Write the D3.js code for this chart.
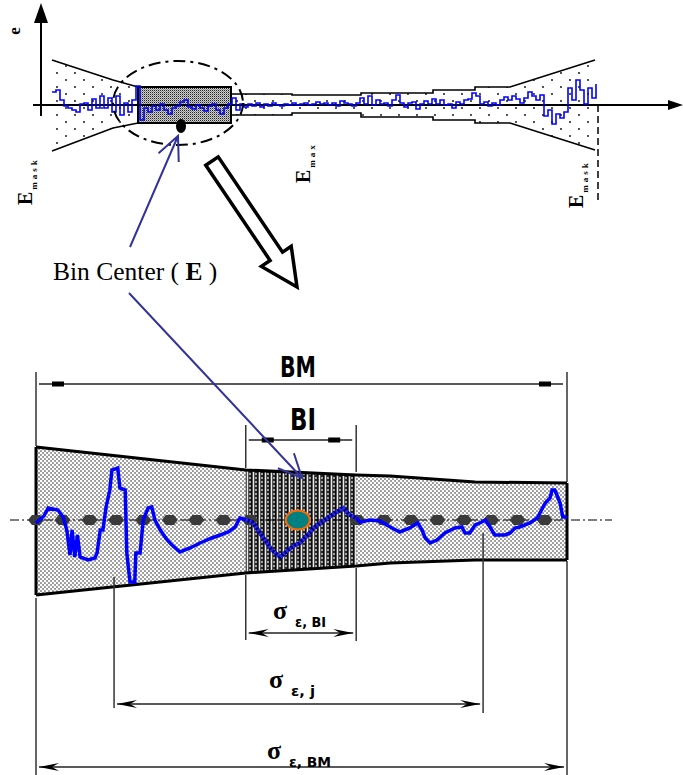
<!DOCTYPE html>
<html>
<head>
<meta charset="utf-8">
<script src="https://cdn.jsdelivr.net/npm/d3@7"></script>
<style>
    body { margin: 0; background: #fff; }
    svg { display: block; }
    .serif { font-family: "Liberation Serif", "Times New Roman", serif; }
    .narrow { font-family: "Liberation Sans Narrow", "DejaVu Sans Condensed", "Liberation Sans", sans-serif; font-weight: bold; font-stretch: condensed; }
</style>
</head>
<body>
<div id="chart"></div>
<script>
// ---------- data ----------
// top panel: error signal e, one value every 2 samples
let topSignal = [2.6, 3.0, 1.0, -0.2, -0.6, -1.0, -1.4, 0.2, 0.4, -1.0,
    1.2, -0.6, 1.8, -0.6, 1.4, -1.4, 1.8, -2.0, 0.4, -1.4,
    1.0, 3.8, -3.0, -0.6, -1.4, -0.2, -1.0, 0.2, -1.0, -1.8,
    -0.6, -0.2, 0.6, 1.0, -0.4, -0.8, 0, -0.6, -1.2, -0.2,
    0.2, -1.0, -1.8, -0.6, 0.2, 1.4, -1.0, 0.2, -0.4, 0.2,
    -0.2, 0.4, -0.4, 0.2, -0.2, 0.4, 0, -0.2, 0.2, 0,
    0.4, 0, 0.2, 0.4, 0, 0.2, 0.6, 0.2, 0.4, 0,
    0.4, -0.2, 0.8, 0.4, 0.2, -0.2, 0.4, 1.4, 0.2, 1.8,
    0, 1.0, 0.2, 0.4, -0.2, 1.0, 2.0, 0.4, -0.4, 0.4,
    0.6, -0.8, 0.2, 0.8, 0.2, 1.2, 0.2, 1.0, 0, 0.2,
    -0.6, 0.6, 0.2, 1.0, 1.2, 2.4, 1.8, 0.2, 0.6, -0.2,
    0.4, 0, 1.0, 1.6, 1.0, 1.8, 1.2, 0.4, 1.4, 2.6,
    1.8, 1.0, 2.0, -2.2, -1.0, -3.8, -1.8, -2.6, -1.4, 3.4,
    1.0, 5.0, 3.0, 0.2, 3.4, 1.4, 4.2];
let sampleStep = 2;

// [sample, upper, lower] of the mask envelope
let topEnvelope = [[0, 9.0, -9.2], [30.5, 5.0, -4.6], [43, 3.6, -3.6], [89.5, 3.6, -3.6],
    [89.5, 2.2, -2.0], [120, 2.2, -2.0], [120, 2.0, -1.6], [154.5, 2.0, -1.6],
    [154.5, 2.4, -2.4], [190.5, 2.4, -2.4], [190.5, 3.0, -3.0], [211.5, 3.0, -3.0],
    [211.5, 3.6, -3.6], [229, 3.6, -3.6], [271.5, 9.0, -9.0]];
let topBinRange = [43, 89.5];
let topBinLimits = [3.6, -3.6];
let topZoomCenter = [63, 0.4];
let topZoomRadius = [32.5, 8.4];
let topBinCenter = [64.5, -4.2];
let maskEnd = 273;

// bottom panel: position in % of BM, error e
let bottomEnvelope = [[0, 7.3, -7.5], [39.5, 5.0, -5.3], [60.3, 4.5, -4.6],
    [66.7, 4.4, -4.3], [82.7, 3.8, -4.0], [100, 3.7, -4.0]];
let bmRange = [0, 100];
let biRange = [39.5, 60.3];
let jRange = [14.7, 84.2];
let binCenter = 49.3;
let binPoints = [0, 5, 10.1, 15.1, 20.2, 25.2, 30.2, 35.3, 40.3,
    60.5, 65.5, 70.6, 75.6, 80.6, 85.7, 90.7, 95.8];

let signalLeft = [[0, -0.3], [1.5, 0.4], [2.3, 1.2], [4.1, 1.0], [5.1, 0.3], [5.8, -1.0],
    [6.4, -3.5], [6.8, -1.0], [7.3, -3.7], [7.8, -1.5], [8.3, -3.7], [9.8, -4.0],
    [11.1, -3.8], [11.5, -3.3], [12.1, -1.0], [12.6, -1.0], [13.2, 1.3], [13.9, 3.0],
    [14.3, 5.0], [15.4, 5.2], [15.8, 3.2], [16.8, 3.0], [17.1, -3.3], [17.7, -6.2],
    [18.6, -6.2], [18.8, -3.3], [19.6, -3.3], [20.2, 0], [21.1, 1.2], [21.8, 1.3],
    [22.4, 0], [23.4, -1.0], [24.7, -2.0], [25.6, -2.5], [27.1, -3.2], [29.0, -2.8],
    [30.9, -2.3], [33.1, -1.8], [34.7, -1.5], [36.2, -1.2], [37.5, -0.7], [38.4, 0.2],
    [39.5, 0]];
let signalBin = [[39.5, 0], [40.7, -0.2], [41.8, -1.0], [43.1, -2.0], [44.4, -3.0],
    [46.0, -3.7], [47.5, -3.0], [48.8, -2.5], [49.7, -2.3], [51.2, -1.5], [52.5, -0.7],
    [54.4, 0], [56.3, 0.7], [57.8, 1.2], [59.1, 0.5], [60.3, 0.2]];
let signalRight = [[60.3, 0.2], [61.0, -0.2], [62.9, 0], [64.8, -0.1], [66.7, -0.7],
    [68.5, -1.2], [70.4, -0.8], [71.9, -0.3], [72.7, -1.0], [73.3, -1.8], [74.2, -2.3],
    [75.5, -2.0], [77.0, -1.3], [78.9, -0.8], [80.2, -0.7], [80.8, -1.3], [81.7, -1.3],
    [82.7, -0.5], [83.6, -0.3], [84.6, 0], [85.5, -0.7], [86.4, -1.5], [88.3, -1.5],
    [89.3, -1.3], [90.2, -0.8], [91.1, -0.7], [93.0, -0.3], [94.4, 0.2], [94.9, 0.7],
    [95.9, 1.7], [96.8, 2.2], [97.2, 3.0], [97.7, 3.0], [98.1, 2.5], [98.7, 1.7],
    [99.2, 0.3], [100, 0.3]];

// ---------- drawing ----------
let width = 683, height = 775;
let svg = d3.select("#chart").append("svg")
    .attr("width", width)
    .attr("height", height);

let defs = svg.append("defs");

// sparse dots in the top envelope
let pDots = defs.append("pattern").attr("id", "topDots")
    .attr("patternUnits", "userSpaceOnUse").attr("width", 18).attr("height", 14);
pDots.append("circle").attr("cx", 3).attr("cy", 3).attr("r", 0.9).attr("fill", "#000");
pDots.append("circle").attr("cx", 12).attr("cy", 10).attr("r", 0.9).attr("fill", "#000");

// gray checker for the top bin
let pBin = defs.append("pattern").attr("id", "topBin")
    .attr("patternUnits", "userSpaceOnUse").attr("width", 2).attr("height", 2);
pBin.append("rect").attr("width", 2).attr("height", 2).attr("fill", "#cfcfcf");
pBin.append("rect").attr("width", 1).attr("height", 1).attr("fill", "#222");
pBin.append("rect").attr("x", 1).attr("y", 1).attr("width", 1).attr("height", 1).attr("fill", "#888");

// light texture in the band
let pLight = defs.append("pattern").attr("id", "bandLight")
    .attr("patternUnits", "userSpaceOnUse").attr("width", 4).attr("height", 4);
pLight.append("rect").attr("width", 4).attr("height", 4).attr("fill", "#9a9a9a");
pLight.append("circle").attr("cx", 1).attr("cy", 1).attr("r", 1.2).attr("fill", "#fff");
pLight.append("circle").attr("cx", 3).attr("cy", 3).attr("r", 1.2).attr("fill", "#fff");

// dark striped texture of the bin interval
let pDark = defs.append("pattern").attr("id", "bandDark")
    .attr("patternUnits", "userSpaceOnUse").attr("width", 6).attr("height", 4);
pDark.append("rect").attr("width", 6).attr("height", 4).attr("fill", "#262626");
pDark.append("circle").attr("cx", 1.5).attr("cy", 1).attr("r", 0.9).attr("fill", "#fff");
pDark.append("circle").attr("cx", 1.5).attr("cy", 3).attr("r", 0.9).attr("fill", "#fff");
pDark.append("circle").attr("cx", 4).attr("cy", 2).attr("r", 0.9).attr("fill", "#ddd");
pDark.append("rect").attr("x", 5.3).attr("width", 0.7).attr("height", 4).attr("fill", "#000");

// ===== top panel =====
let xT = d3.scaleLinear().domain([0, 272]).range([52, 596]);
let yT = d3.scaleLinear().domain([-10, 10]).range([155, 55]);

let topG = svg.append("g").attr("class", "top-panel");

topG.append("path")
    .datum(topEnvelope)
    .attr("fill", "url(#topDots)")
    .attr("d", d3.area().x(d => xT(d[0])).y0(d => yT(d[2])).y1(d => yT(d[1])));

topG.append("rect")
    .attr("x", xT(topBinRange[0]))
    .attr("y", yT(topBinLimits[0]))
    .attr("width", xT(topBinRange[1]) - xT(topBinRange[0]))
    .attr("height", yT(topBinLimits[1]) - yT(topBinLimits[0]))
    .attr("fill", "url(#topBin)")
    .attr("stroke", "#000")
    .attr("stroke-width", 2);

[1, 2].forEach(k => {
    topG.append("path")
        .datum(topEnvelope)
        .attr("fill", "none")
        .attr("stroke", "#000")
        .attr("stroke-width", 1.6)
        .attr("d", d3.line().x(d => xT(d[0])).y(d => yT(d[k])));
});

// axes
let axisY = yT(0);
topG.append("line").attr("x1", 33).attr("x2", 670).attr("y1", axisY).attr("y2", axisY)
    .attr("stroke", "#000").attr("stroke-width", 2);
topG.append("path").attr("d", `M668,${axisY - 5}L683,${axisY}L668,${axisY + 5}Z`).attr("fill", "#000");
topG.append("line").attr("x1", 41).attr("x2", 41).attr("y1", 116).attr("y2", 18)
    .attr("stroke", "#000").attr("stroke-width", 2);
topG.append("path").attr("d", "M34,23L41,3L48,23Z").attr("fill", "#000");
topG.append("text").attr("class", "serif")
    .attr("transform", "translate(20,31) rotate(-90)")
    .attr("text-anchor", "middle")
    .attr("font-size", 17).attr("font-weight", "bold")
    .text("e");

// mask end
topG.append("line")
    .attr("x1", xT(maskEnd)).attr("x2", xT(maskEnd))
    .attr("y1", axisY).attr("y2", 200)
    .attr("stroke", "#000").attr("stroke-width", 1.5)
    .attr("stroke-dasharray", "7,4");

// error signal
topG.append("path")
    .datum(topSignal)
    .attr("fill", "none")
    .attr("stroke", "#0000ff")
    .attr("stroke-width", 1.6)
    .attr("d", d3.line().curve(d3.curveStepAfter)
        .x((d, i) => xT(i * sampleStep)).y(d => yT(d)));

// zoom ellipse
topG.append("ellipse")
    .attr("cx", xT(topZoomCenter[0])).attr("cy", yT(topZoomCenter[1]))
    .attr("rx", xT(topZoomCenter[0] + topZoomRadius[0]) - xT(topZoomCenter[0]))
    .attr("ry", yT(0) - yT(topZoomRadius[1]))
    .attr("fill", "none")
    .attr("stroke", "#000").attr("stroke-width", 2)
    .attr("stroke-dasharray", "12,5,3,5");

topG.append("ellipse")
    .attr("cx", xT(topBinCenter[0])).attr("cy", yT(topBinCenter[1]))
    .attr("rx", 5).attr("ry", 7).attr("fill", "#000");

// rotated labels
function rotLabel(x, y, sub) {
    let t = topG.append("text").attr("class", "serif")
        .attr("transform", `translate(${x},${y}) rotate(-90)`)
        .attr("font-weight", "bold");
    t.append("tspan").attr("font-size", 20).text("E");
    t.append("tspan").attr("font-size", 9).attr("dy", 5).attr("dx", 2)
        .attr("letter-spacing", 3).text(sub);
}
rotLabel(32, 205, "mask");
rotLabel(310, 183, "max");
rotLabel(583, 208, "mask");

// ===== bottom panel =====
let xB = d3.scaleLinear().domain([0, 100]).range([36, 567]);
let yB = d3.scaleLinear().domain([-8, 8]).range([600, 440]);

let bot = svg.append("g").attr("class", "bottom-panel");

let bandArea = d3.area().x(d => xB(d[0])).y0(d => yB(d[2])).y1(d => yB(d[1]));

bot.append("path").datum(bottomEnvelope)
    .attr("fill", "url(#bandLight)")
    .attr("d", bandArea);

defs.append("clipPath").attr("id", "binClip")
    .append("rect")
    .attr("x", xB(biRange[0])).attr("y", 400)
    .attr("width", xB(biRange[1]) - xB(biRange[0])).attr("height", 220);

bot.append("path").datum(bottomEnvelope)
    .attr("fill", "url(#bandDark)")
    .attr("clip-path", "url(#binClip)")
    .attr("d", bandArea);

[1, 2].forEach(k => {
    bot.append("path").datum(bottomEnvelope)
        .attr("fill", "none").attr("stroke", "#000").attr("stroke-width", 3)
        .attr("d", d3.line().x(d => xB(d[0])).y(d => yB(d[k])));
});
[bottomEnvelope[0], bottomEnvelope[bottomEnvelope.length - 1]].forEach(d => {
    bot.append("line")
        .attr("x1", xB(d[0])).attr("x2", xB(d[0]))
        .attr("y1", yB(d[1])).attr("y2", yB(d[2]))
        .attr("stroke", "#000").attr("stroke-width", 3);
});

// centre line and bin centres
bot.append("line")
    .attr("x1", 10).attr("x2", 612).attr("y1", yB(0)).attr("y2", yB(0))
    .attr("stroke", "#000").attr("stroke-width", 1.2)
    .attr("stroke-dasharray", "9,3,2,3");

bot.selectAll(".bin-point")
    .data(binPoints)
    .enter().append("path")
    .attr("class", "bin-point")
    .attr("transform", d => `translate(${xB(d)},${yB(0)})`)
    .attr("d", "M-8,0L-4,-5L4,-5L8,0L4,5L-4,5Z")
    .attr("fill", "#3a3a3a");

let sigLine = d3.line().x(d => xB(d[0])).y(d => yB(d[1]));
[signalLeft, signalRight].forEach(s => {
    bot.append("path").datum(s)
        .attr("fill", "none").attr("stroke", "#0000ff").attr("stroke-width", 3.5)
        .attr("d", sigLine);
});
bot.append("path").datum(signalBin)
    .attr("fill", "none").attr("stroke", "#000070").attr("stroke-width", 4)
    .attr("d", sigLine);
bot.append("path").datum(signalBin)
    .attr("fill", "none").attr("stroke", "#2a2aff").attr("stroke-width", 4)
    .attr("stroke-dasharray", "2,2")
    .attr("d", sigLine);

bot.append("ellipse")
    .attr("cx", xB(binCenter)).attr("cy", yB(0))
    .attr("rx", 12).attr("ry", 9.5)
    .attr("fill", "#008080")
    .attr("stroke", "#ff6a00").attr("stroke-width", 2);

// ===== dimension lines =====
let dims = svg.append("g").attr("class", "dims");

function guide(v, y1, y2) {
    dims.append("line")
        .attr("x1", xB(v)).attr("x2", xB(v)).attr("y1", y1).attr("y2", y2)
        .attr("stroke", "#333").attr("stroke-width", 1.5);
}
guide(bmRange[0], 372, 446); guide(bmRange[0], 598, 775);
guide(bmRange[1], 372, 482); guide(bmRange[1], 561, 775);
guide(biRange[0], 425, 468); guide(biRange[0], 575, 640);
guide(biRange[1], 425, 472); guide(biRange[1], 568, 641);
guide(jRange[0], 577, 708);
guide(jRange[1], 533, 713);

function blockDim(range, y) {
    let a = xB(range[0]), b = xB(range[1]);
    dims.append("line").attr("x1", a + 3).attr("x2", b - 4).attr("y1", y).attr("y2", y)
        .attr("stroke", "#222").attr("stroke-width", 1.6);
    [a + 16, b - 28].forEach(x => {
        dims.append("rect").attr("x", x).attr("y", y - 2.5)
            .attr("width", 12).attr("height", 5).attr("fill", "#000");
    });
}
blockDim(bmRange, 384);
blockDim(biRange, 440);

function arrowDim(range, y) {
    let a = xB(range[0]) + 3, b = xB(range[1]) - 3;
    dims.append("line").attr("x1", a).attr("x2", b).attr("y1", y).attr("y2", y)
        .attr("stroke", "#222").attr("stroke-width", 1.6);
    [[a, 1], [b, -1]].forEach(([x, s]) => {
        dims.append("path")
            .attr("d", `M${x},${y}L${x + s * 20},${y - 4}L${x + s * 13},${y}L${x + s * 20},${y + 4}Z`)
            .attr("fill", "#000");
    });
}
arrowDim(biRange, 633);
arrowDim(jRange, 704);
arrowDim(bmRange, 767);

dims.append("text").attr("class", "narrow")
    .attr("x", 280).attr("y", 377)
    .attr("font-size", 28)
    .attr("textLength", 36).attr("lengthAdjust", "spacingAndGlyphs")
    .text("BM");
dims.append("text").attr("class", "narrow")
    .attr("x", 290).attr("y", 430)
    .attr("font-size", 30)
    .attr("textLength", 26).attr("lengthAdjust", "spacingAndGlyphs")
    .text("BI");

function sigmaLabel(x, y, sub, subLen) {
    dims.append("text").attr("class", "serif")
        .attr("x", x).attr("y", y)
        .attr("font-weight", "bold").attr("font-size", 26)
        .text("σ");
    dims.append("text").attr("class", "narrow")
        .attr("x", x + 22).attr("y", y + 8)
        .attr("font-size", 14)
        .attr("textLength", subLen).attr("lengthAdjust", "spacingAndGlyphs")
        .text(sub);
}
sigmaLabel(273, 619, "ε, BI", 31);
sigmaLabel(269, 688, "ε, j", 24);
sigmaLabel(267, 759, "ε, BM", 42);

// ===== annotations =====
let ann = svg.append("g").attr("class", "annotations");

ann.append("text").attr("class", "serif")
    .attr("x", 53).attr("y", 280).attr("font-size", 25.5)
    .call(t => {
        t.append("tspan").text("Bin Center ( ");
        t.append("tspan").attr("font-weight", "bold").text("E");
        t.append("tspan").text(" )");
    });

function pointer(from, to) {
    let ang = Math.atan2(from[1] - to[1], from[0] - to[0]);
    let len = 26, spread = 25 * Math.PI / 180;
    let h1 = [to[0] + len * Math.cos(ang + spread), to[1] + len * Math.sin(ang + spread)];
    let h2 = [to[0] + len * Math.cos(ang - spread), to[1] + len * Math.sin(ang - spread)];
    ann.append("path")
        .attr("d", `M${from}L${to}M${h1}L${to}L${h2}`)
        .attr("fill", "none")
        .attr("stroke", "#33339a").attr("stroke-width", 2);
}
pointer([130, 247], [xT(topBinCenter[0]) - 3, yT(topBinCenter[1]) + 10]);
pointer([129, 293], [302, 478]);

// hollow zoom arrow
function hollowArrow(tail, tip, shaft, head, headLen) {
    let dx = tip[0] - tail[0], dy = tip[1] - tail[1];
    let L = Math.hypot(dx, dy);
    let u = [dx / L, dy / L], n = [-u[1], u[0]];
    let hb = [tip[0] - u[0] * headLen, tip[1] - u[1] * headLen];
    let p = (b, s) => [b[0] + n[0] * s, b[1] + n[1] * s];
    let pts = [p(tail, shaft), p(hb, shaft), p(hb, head), tip, p(hb, -head), p(hb, -shaft), p(tail, -shaft)];
    ann.append("path")
        .attr("d", "M" + pts.join("L") + "Z")
        .attr("fill", "#fff")
        .attr("stroke", "#000").attr("stroke-width", 3.5)
        .attr("stroke-linejoin", "miter");
}
hollowArrow([212, 161], [297, 287], 7.5, 18, 37);
</script>
</body>
</html>
